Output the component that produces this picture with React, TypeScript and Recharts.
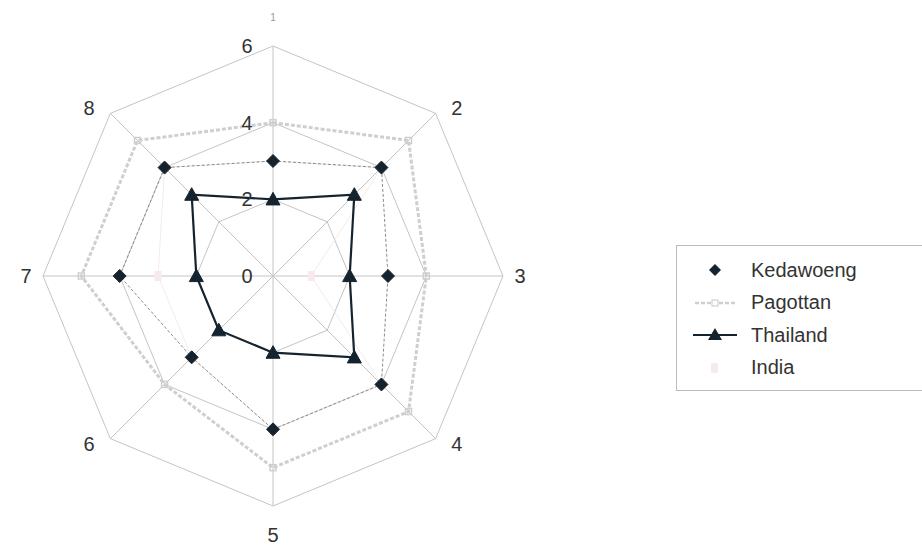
import React from "react";
import { RadarChart, Radar, PolarGrid, PolarAngleAxis, PolarRadiusAxis, Legend } from "recharts";

const categories = ["1", "2", "3", "4", "5", "6", "7", "8"];
const kedawoeng = [3, 4, 3, 4, 4, 3, 4, 4];
const pagottan = [4, 5, 4, 5, 5, 4, 5, 5];
const thailand = [2, 3, 2, 3, 2, 2, 2, 3];
const india = [3, 4, 1, 4, 4, 3, 3, 4];
const radiusTicks = [0, 2, 4, 6];
const seriesNames = ["Kedawoeng", "Pagottan", "Thailand", "India"];

const data = categories.map((c, i) => ({
  cat: c,
  Kedawoeng: kedawoeng[i],
  Pagottan: pagottan[i],
  Thailand: thailand[i],
  India: india[i],
}));

const CX = 273;
const CY = 276;
const FONT = "'Liberation Sans', Arial, sans-serif";

const Diamond = (props: any) => {
  const { cx, cy } = props;
  if (cx == null || cy == null) return null;
  const s = 6.5;
  return (
    <path
      d={`M${cx},${cy - s} L${cx + s},${cy} L${cx},${cy + s} L${cx - s},${cy} Z`}
      fill="#15232e"
      stroke="#15232e"
    />
  );
};

const Triangle = (props: any) => {
  const { cx, cy } = props;
  if (cx == null || cy == null) return null;
  const s = 7;
  return (
    <path
      d={`M${cx},${cy - s} L${cx + s},${cy + s * 0.8} L${cx - s},${cy + s * 0.8} Z`}
      fill="#15232e"
      stroke="#15232e"
    />
  );
};

const Square = (props: any) => {
  const { cx, cy } = props;
  if (cx == null || cy == null) return null;
  return <rect x={cx - 3} y={cy - 3} width={6} height={6} fill="none" stroke="#cfcfcf" strokeWidth={1.5} />;
};

const PinkMark = (props: any) => {
  const { cx, cy } = props;
  if (cx == null || cy == null) return null;
  return <rect x={cx - 3.5} y={cy - 5} width={7} height={10} fill="#f6eaea" stroke="none" />;
};

const AngleTick = (props: any) => {
  const { payload, index } = props;
  const i = typeof index === "number" ? index : categories.indexOf(String(payload?.value));
  const ang = (i * 45 * Math.PI) / 180;
  const isDiag = i % 2 === 1;
  const rx = isDiag ? 260 : 247;
  const ry = isDiag ? 238 : 259;
  const x = CX + rx * Math.sin(ang);
  const y = CY - ry * Math.cos(ang);
  return (
    <text
      x={x}
      y={y}
      textAnchor="middle"
      dominantBaseline="central"
      fontFamily={FONT}
      fontSize={i === 0 ? 10 : 20}
      fill={i === 0 ? "#999" : "#333"}
    >
      {payload.value}
    </text>
  );
};

const RadiusTick = (props: any) => {
  const { x, y, payload } = props;
  return (
    <text
      x={x - 26}
      y={y}
      textAnchor="middle"
      dominantBaseline="central"
      fontFamily={FONT}
      fontSize={20}
      fill="#333"
    >
      {payload.value}
    </text>
  );
};

const LegendContent = () => {
  const markers = [
    <svg width={60} height={20} key="k">
      <path d="M30,14 L36,20 L30,26 L24,20 Z" transform="translate(0,-10)" fill="#15232e" />
    </svg>,
    <svg width={60} height={20} key="p">
      <line x1={10} y1={10} x2={50} y2={10} stroke="#cfcfcf" strokeWidth={2.5} strokeDasharray="4 2" />
      <rect x={27} y={7} width={6} height={6} fill="#fff" stroke="#c8c8c8" />
    </svg>,
    <svg width={60} height={20} key="t">
      <line x1={8} y1={10} x2={52} y2={10} stroke="#15232e" strokeWidth={2} />
      <path d="M30,3 L37,15 L23,15 Z" fill="#15232e" />
    </svg>,
    <svg width={60} height={20} key="i">
      <rect x={26} y={5} width={7} height={10} fill="#f6eaea" />
    </svg>,
  ];
  return (
    <div
      style={{
        border: "1px solid #bbb",
        padding: "8px 10px 6px 8px",
        background: "#fff",
        width: 260,
        boxSizing: "border-box",
      }}
    >
      {seriesNames.map((n, i) => (
        <div
          key={n}
          style={{ display: "flex", alignItems: "center", height: 32.5, fontFamily: FONT, fontSize: 20, color: "#333" }}
        >
          {markers[i]}
          <span style={{ marginLeft: 6 }}>{n}</span>
        </div>
      ))}
    </div>
  );
};

export default function App() {
  return (
    <div style={{ position: "absolute", left: 0, top: 0, width: 922, height: 553, background: "#fff", overflow: "hidden" }}>
      <RadarChart
        width={922}
        height={553}
        data={data}
        cx={CX}
        cy={CY}
        outerRadius={230}
        startAngle={90}
        endAngle={-270}
        margin={{ top: 0, right: 0, bottom: 0, left: 0 }}
      >
        <PolarGrid gridType="polygon" stroke="#c4c4c4" strokeWidth={1} />
        <PolarAngleAxis dataKey="cat" tick={AngleTick} tickLine={false} axisLine={false} />
        <PolarRadiusAxis
          angle={90}
          domain={[0, 6]}
          ticks={radiusTicks}
          tickCount={4}
          tick={RadiusTick}
          axisLine={false}
          tickLine={false}
        />
        <Radar
          name="India"
          dataKey="India"
          stroke="#f6eaea"
          strokeWidth={1}
          fill="none"
          fillOpacity={0}
          dot={PinkMark}
          isAnimationActive={false}
        />
        <Radar
          name="Pagottan"
          dataKey="Pagottan"
          stroke="#cfcfcf"
          strokeWidth={3}
          strokeDasharray="4 2"
          fill="none"
          fillOpacity={0}
          dot={Square}
          isAnimationActive={false}
        />
        <Radar
          name="Kedawoeng"
          dataKey="Kedawoeng"
          stroke="#8a8a8a"
          strokeWidth={1}
          strokeDasharray="3 2"
          fill="none"
          fillOpacity={0}
          dot={Diamond}
          isAnimationActive={false}
        />
        <Radar
          name="Thailand"
          dataKey="Thailand"
          stroke="#15232e"
          strokeWidth={2.2}
          fill="none"
          fillOpacity={0}
          dot={Triangle}
          isAnimationActive={false}
        />
        <Legend
          content={LegendContent}
          layout="vertical"
          wrapperStyle={{ position: "absolute", left: 676, top: 245, width: 260 }}
        />
      </RadarChart>
    </div>
  );
}
